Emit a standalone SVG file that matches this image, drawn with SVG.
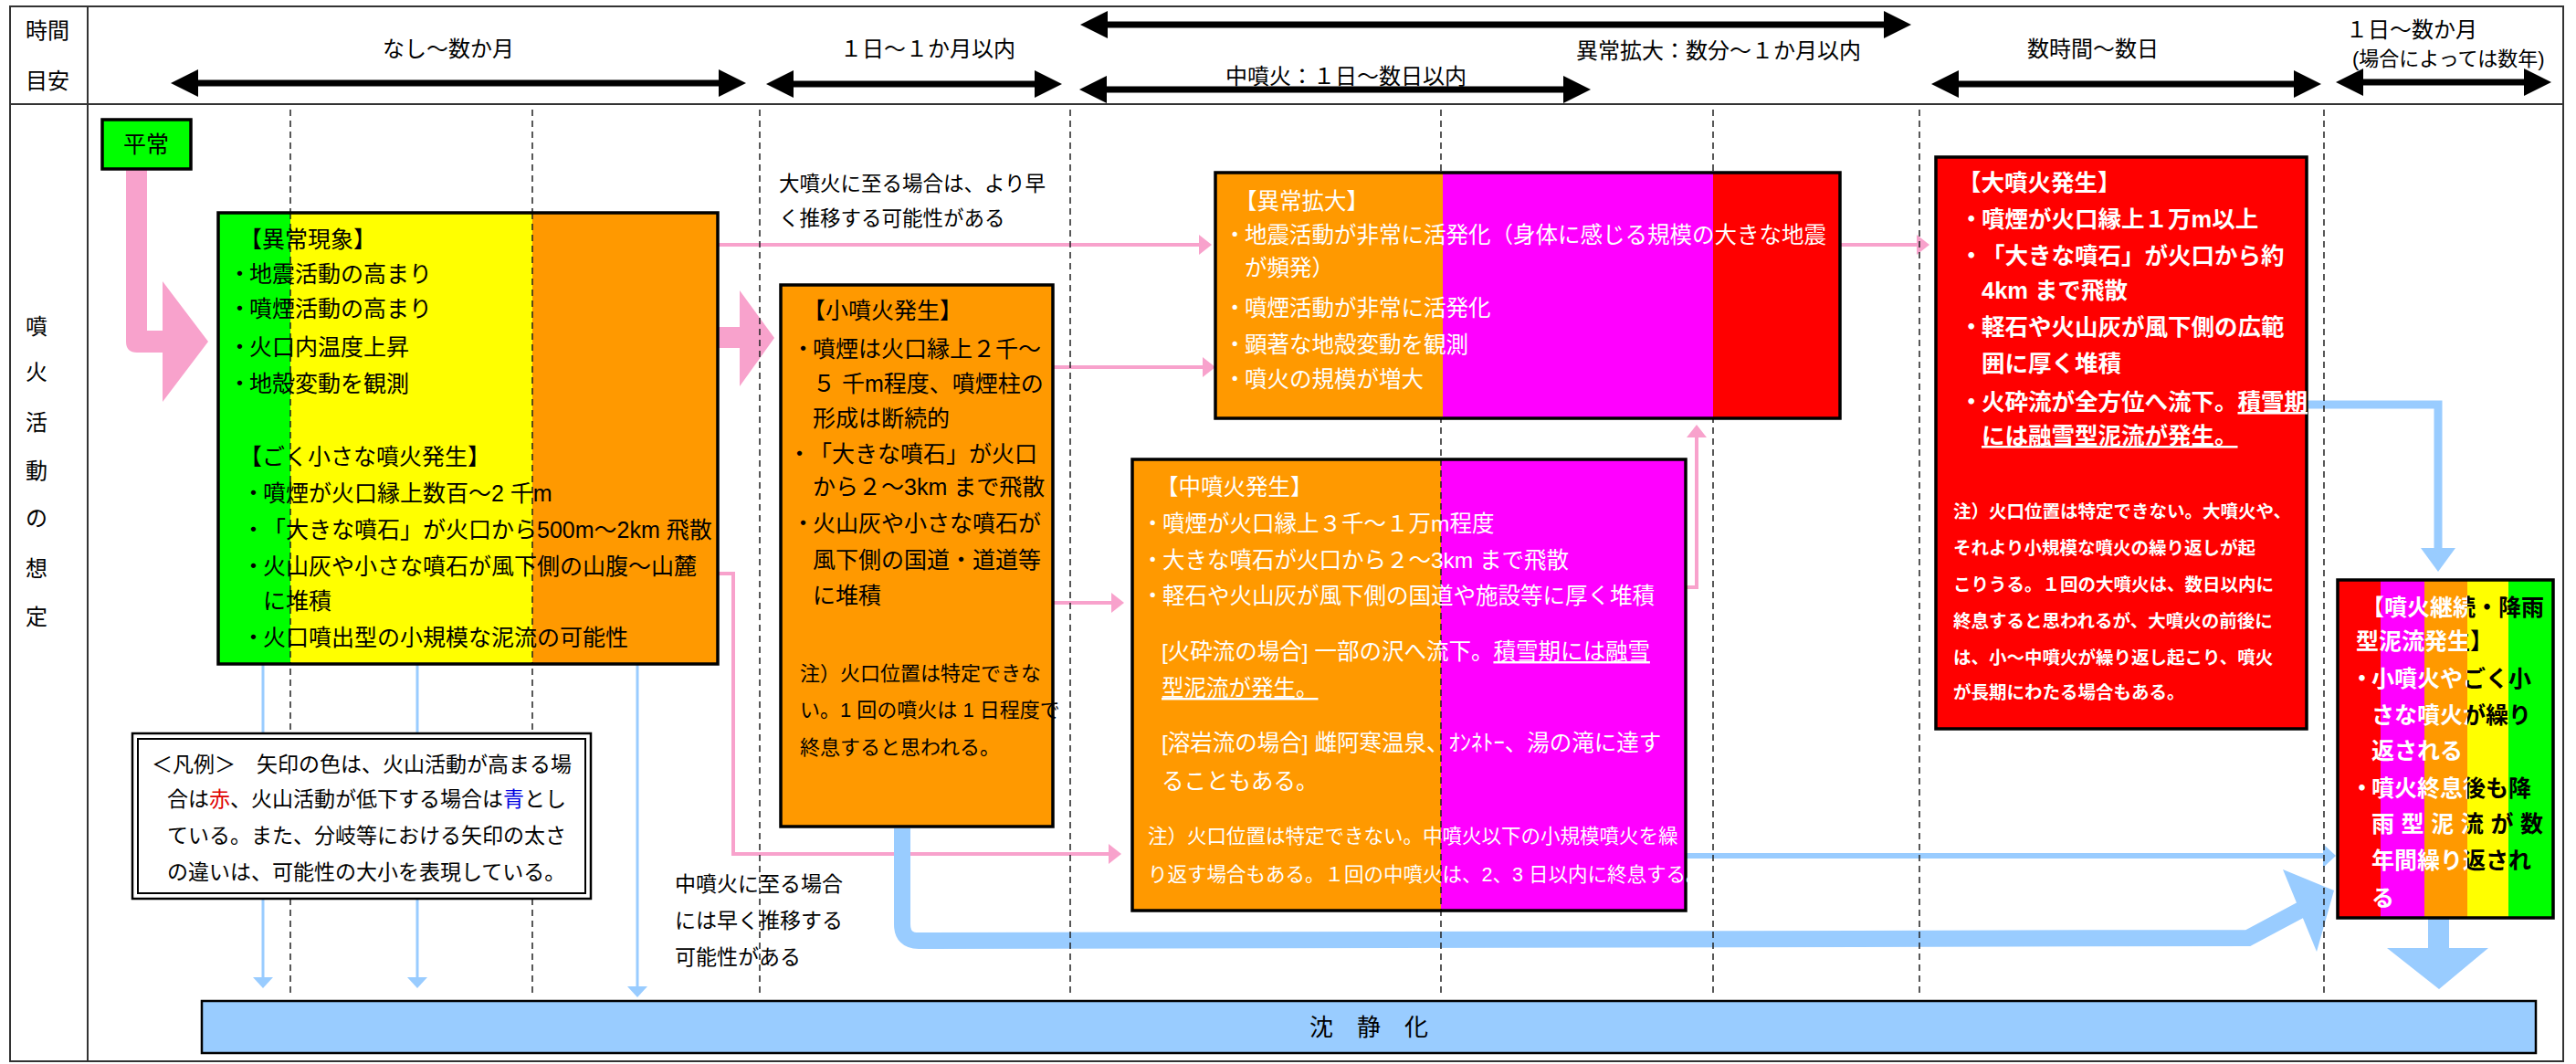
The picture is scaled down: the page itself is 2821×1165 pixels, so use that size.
<svg xmlns="http://www.w3.org/2000/svg" width="2821" height="1165" viewBox="0 0 2821 1165">
<style>
text{font-family:"Liberation Sans","Noto Sans CJK JP",sans-serif;}
.t{font-size:25px}
.h{font-size:24px}
.n{font-size:21.5px}
.s{font-size:19.5px}
.lg{font-size:23px}
.k{fill:#000}
.w{fill:#fff}
.b{font-weight:bold}
.u{text-decoration:underline}
.bx{stroke:#000;stroke-width:3.5;fill:none}
.pk{fill:none;stroke:#F8A2CC;stroke-width:4}
.pkf{fill:#F8A2CC}
.bl{fill:none;stroke:#99CCFF}
.blf{fill:#99CCFF}
.dash{stroke:#222;stroke-width:1.5;stroke-dasharray:7 5}
.hdr{stroke:#000;stroke-width:7}
</style>
<defs>
<marker id="ah" markerUnits="userSpaceOnUse" viewBox="0 0 30 30" markerWidth="30" markerHeight="30" refX="10" refY="15" orient="auto-start-reverse"><path d="M0,0 L30,15 L0,30 z" fill="#000"/></marker>
<marker id="pa" markerUnits="userSpaceOnUse" viewBox="0 0 14 22" markerWidth="14" markerHeight="22" refX="2" refY="11" orient="auto"><path d="M0,0 L14,11 L0,22 z" fill="#F8A2CC"/></marker>
<marker id="ba" markerUnits="userSpaceOnUse" viewBox="0 0 12 22" markerWidth="12" markerHeight="22" refX="1" refY="11" orient="auto"><path d="M0,0 L12,11 L0,22 z" fill="#99CCFF"/></marker>
<marker id="bm" markerUnits="userSpaceOnUse" viewBox="0 0 14 26" markerWidth="14" markerHeight="26" refX="2" refY="13" orient="auto"><path d="M0,0 L14,13 L0,26 z" fill="#99CCFF"/></marker>
<clipPath id="cl"><rect x="2540" y="630" width="162" height="380"/></clipPath>
<clipPath id="cr"><rect x="2702" y="630" width="120" height="380"/></clipPath>
<g id="kkText" class="t b">
<text x="2586" y="674">【噴火継続・降雨</text>
<text x="2580" y="711">型泥流発生】</text>
<text x="2574" y="752">・</text><text x="2597" y="752">小噴火やごく小</text>
<text x="2597" y="792">さな噴火が繰り</text>
<text x="2597" y="831">返される</text>
<text x="2574" y="872">・</text><text x="2597" y="872">噴火終息後も降</text>
<text x="2597" y="911" textLength="188" lengthAdjust="spacing">雨型泥流が数</text>
<text x="2597" y="951">年間繰り返され</text>
<text x="2597" y="992">る</text>
</g>
</defs>
<rect x="0" y="0" width="2821" height="1165" fill="#fff"/>

<g id="table" fill="none" stroke="#333" stroke-width="2">
<rect x="11" y="7" width="2796" height="1155"/>
<line x1="96" y1="7" x2="96" y2="1162"/>
<line x1="11" y1="114" x2="2807" y2="114"/>
</g>

<g id="header" class="h k">
<text x="52" y="42" text-anchor="middle">時間</text>
<text x="52" y="97" text-anchor="middle">目安</text>
<text x="491" y="62" text-anchor="middle">なし〜数か月</text>
<text x="1016" y="62" text-anchor="middle">１日〜１か月以内</text>
<text x="1342" y="92">中噴火：１日〜数日以内</text>
<text x="1726" y="64">異常拡大：数分〜１か月以内</text>
<text x="2292" y="62" text-anchor="middle">数時間〜数日</text>
<text x="2569" y="41">１日〜数か月</text>
<text x="2576" y="72" style="font-size:22px">(場合によっては数年)</text>
<g class="hdr" marker-start="url(#ah)" marker-end="url(#ah)">
<line x1="207" y1="91" x2="797" y2="91"/>
<line x1="859" y1="92" x2="1143" y2="92"/>
<line x1="1202" y1="98" x2="1722" y2="98"/>
<line x1="1203" y1="27" x2="2073" y2="27"/>
<line x1="2135" y1="92" x2="2522" y2="92"/>
<line x1="2578" y1="90" x2="2774" y2="90"/>
</g>
</g>

<g id="rowlabel" class="h k" text-anchor="middle">
<text x="40" y="366">噴</text>
<text x="40" y="416">火</text>
<text x="40" y="471">活</text>
<text x="40" y="524">動</text>
<text x="40" y="576">の</text>
<text x="40" y="631">想</text>
<text x="40" y="684">定</text>
</g>

<g id="connectors">
<path class="pkf" d="M138,185 H161 V362 H178 V308 L228,374 L178,440 V386 H150 Q138,386 138,374 Z"/>
<path class="pkf" d="M787,358 H810 V318 L848,370 L810,423 V381 H787 Z"/>
<path class="pk" d="M786,268 H1315" marker-end="url(#pa)"/>
<path class="pk" d="M2015,268 H2101" marker-end="url(#pa)"/>
<path class="pk" d="M1153,402 H1319" marker-end="url(#pa)"/>
<path class="pk" d="M1153,660 H1219" marker-end="url(#pa)"/>
<path class="pk" d="M786,628 H803 V935 H1216" marker-end="url(#pa)"/>
<path class="pk" d="M1846,643 H1858 V477" marker-end="url(#pa)"/>
<path class="bl" stroke-width="3" d="M288,727 V1071" marker-end="url(#ba)"/>
<path class="bl" stroke-width="3" d="M457,727 V1071" marker-end="url(#ba)"/>
<path class="bl" stroke-width="3" d="M698,727 V1081" marker-end="url(#ba)"/>
<path class="bl" stroke-width="6" d="M1846,937 H2546" marker-end="url(#bm)"/>
<path class="bl" stroke-width="18" d="M988,907 V1012 Q988,1030 1006,1030 L2462,1027 L2520,996"/>
<polygon class="blf" points="2500,952 2556,975 2537,1042"/>
<path class="bl" stroke-width="9" d="M2526,443 H2670 V602"/>
<polygon class="blf" points="2651,600 2689,600 2670,626"/>
<polygon class="blf" points="2659,1005 2682,1005 2682,1038 2725,1038 2671,1083 2614,1038 2659,1038"/>
</g>

<g id="grid" class="dash">
<line x1="318" y1="120" x2="318" y2="1090"/>
<line x1="583" y1="120" x2="583" y2="1090"/>
<line x1="832" y1="120" x2="832" y2="1090"/>
<line x1="1172" y1="120" x2="1172" y2="1090"/>
<line x1="1578" y1="120" x2="1578" y2="1090"/>
<line x1="1876" y1="120" x2="1876" y2="1090"/>
<line x1="2102" y1="120" x2="2102" y2="1090"/>
<line x1="2545" y1="120" x2="2545" y2="1090"/>
</g>

<g id="heijo">
<rect x="112" y="131" width="97" height="54" fill="#00FF00"/>
<rect class="bx" x="112" y="131" width="97" height="54"/>
<text class="t k" x="160" y="167" text-anchor="middle">平常</text>
</g>

<g id="ijougenshou">
<rect x="239" y="233" width="79" height="494" fill="#00FF00"/>
<rect x="318" y="233" width="265" height="494" fill="#FFFF00"/>
<rect x="583" y="233" width="203" height="494" fill="#FF9900"/>
<line class="dash" x1="318" y1="233" x2="318" y2="727"/>
<line class="dash" x1="583" y1="233" x2="583" y2="727"/>
<rect class="bx" x="239" y="233" width="547" height="494"/>
<g class="t k">
<text x="262" y="271">【異常現象】</text>
<text x="250" y="309">・</text><text x="273" y="309">地震活動の高まり</text>
<text x="250" y="347">・</text><text x="273" y="347">噴煙活動の高まり</text>
<text x="250" y="389">・</text><text x="273" y="389">火口内温度上昇</text>
<text x="250" y="429">・</text><text x="273" y="429">地殻変動を観測</text>
<text x="262" y="509">【ごく小さな噴火発生】</text>
<text x="265" y="549">・</text><text x="288" y="549">噴煙が火口縁上数百〜2 千m</text>
<text x="265" y="589">・</text><text x="288" y="589">「大きな噴石」が火口から500m〜2km 飛散</text>
<text x="265" y="629">・</text><text x="288" y="629">火山灰や小さな噴石が風下側の山腹〜山麓</text>
<text x="288" y="667">に堆積</text>
<text x="265" y="707">・</text><text x="288" y="707">火口噴出型の小規模な泥流の可能性</text>
</g>
</g>

<g id="legend">
<rect x="145" y="803" width="502" height="181" fill="#fff" stroke="#000" stroke-width="2.5"/>
<rect x="151" y="809" width="490" height="169" fill="none" stroke="#000" stroke-width="2"/>
<g class="lg k">
<text x="166" y="845">＜凡例＞　矢印の色は、火山活動が高まる場</text>
<text x="183" y="883">合は<tspan fill="#E00000">赤</tspan>、火山活動が低下する場合は<tspan fill="#0000E0">青</tspan>とし</text>
<text x="183" y="923">ている。また、分岐等における矢印の太さ</text>
<text x="183" y="963">の違いは、可能性の大小を表現している。</text>
</g>
</g>

<g id="note-daifunka" class="k" style="font-size:22.5px">
<text x="853" y="209">大噴火に至る場合は、より早</text>
<text x="853" y="247">く推移する可能性がある</text>
</g>

<g id="note-chufunka" class="lg k">
<text x="739" y="976">中噴火に至る場合</text>
<text x="739" y="1016">には早く推移する</text>
<text x="739" y="1056">可能性がある</text>
</g>

<g id="shoufunka">
<rect x="855" y="312" width="298" height="593" fill="#FF9900"/>
<rect class="bx" x="855" y="312" width="298" height="593"/>
<g class="t k">
<text x="879" y="349">【小噴火発生】</text>
<text x="867" y="391">・</text><text x="890" y="391">噴煙は火口縁上２千〜</text>
<text x="890" y="429">５ 千m程度、噴煙柱の</text>
<text x="890" y="467">形成は断続的</text>
<text x="863" y="506">・</text><text x="886" y="506">「大きな噴石」が火口</text>
<text x="890" y="542">から２〜3km まで飛散</text>
<text x="867" y="582">・</text><text x="890" y="582">火山灰や小さな噴石が</text>
<text x="890" y="622">風下側の国道・道道等</text>
<text x="890" y="661">に堆積</text>
</g>
<g class="k" style="font-size:22px">
<text x="876" y="745">注）火口位置は特定できな</text>
<text x="876" y="785">い。1 回の噴火は 1 日程度で</text>
<text x="876" y="826">終息すると思われる。</text>
</g>
</g>

<g id="ijoukakudai">
<rect x="1331" y="189" width="249" height="269" fill="#FF9900"/>
<rect x="1580" y="189" width="296" height="269" fill="#FF00FF"/>
<rect x="1876" y="189" width="139" height="269" fill="#FF0000"/>
<rect class="bx" x="1331" y="189" width="684" height="269"/>
<g class="w" style="font-size:24.5px">
<text x="1352" y="229">【異常拡大】</text>
<text x="1340" y="266">・</text><text x="1363" y="266">地震活動が非常に活発化（身体に感じる規模の大きな地震</text>
<text x="1363" y="302">が頻発）</text>
<text x="1340" y="346">・</text><text x="1363" y="346">噴煙活動が非常に活発化</text>
<text x="1340" y="386">・</text><text x="1363" y="386">顕著な地殻変動を観測</text>
<text x="1340" y="424">・</text><text x="1363" y="424">噴火の規模が増大</text>
</g>
</g>

<g id="chufunka">
<rect x="1240" y="503" width="338" height="494" fill="#FF9900"/>
<rect x="1578" y="503" width="268" height="494" fill="#FF00FF"/>
<line class="dash" x1="1578" y1="503" x2="1578" y2="997"/>
<rect class="bx" x="1240" y="503" width="606" height="494"/>
<g class="w" style="font-size:24.5px">
<text x="1266" y="542">【中噴火発生】</text>
<text x="1250" y="582">・</text><text x="1273" y="582">噴煙が火口縁上３千〜１万m程度</text>
<text x="1250" y="622">・</text><text x="1273" y="622">大きな噴石が火口から２〜3km まで飛散</text>
<text x="1250" y="661">・</text><text x="1273" y="661">軽石や火山灰が風下側の国道や施設等に厚く堆積</text>
<text x="1272" y="722">[火砕流の場合] 一部の沢へ流下。<tspan class="u">積雪期には融雪</tspan></text>
<text x="1272" y="762" class="u">型泥流が発生。</text>
<text x="1272" y="822">[溶岩流の場合] 雌阿寒温泉、ｵﾝﾈﾄｰ、湯の滝に達す</text>
<text x="1272" y="864">ることもある。</text>
</g>
<g class="w n">
<text x="1257" y="923">注）火口位置は特定できない。中噴火以下の小規模噴火を繰</text>
<text x="1257" y="965">り返す場合もある。１回の中噴火は、2、3 日以内に終息する。</text>
</g>
</g>

<g id="daifunka">
<rect x="2120" y="172" width="406" height="626" fill="#FF0000"/>
<rect class="bx" x="2120" y="172" width="406" height="626"/>
<g class="w b" style="font-size:25.5px">
<text x="2144" y="209">【大噴火発生】</text>
<text x="2146" y="249">・</text><text x="2170" y="249">噴煙が火口縁上１万m以上</text>
<text x="2146" y="289">・</text><text x="2170" y="289">「大きな噴石」が火口から約</text>
<text x="2170" y="327">4km まで飛散</text>
<text x="2146" y="367">・</text><text x="2170" y="367">軽石や火山灰が風下側の広範</text>
<text x="2170" y="407">囲に厚く堆積</text>
<text x="2146" y="449">・</text><text x="2170" y="449">火砕流が全方位へ流下。<tspan class="u">積雪期</tspan></text>
<text x="2170" y="486" class="u">には融雪型泥流が発生。</text>
</g>
<g class="w b s">
<text x="2139" y="567">注）火口位置は特定できない。大噴火や、</text>
<text x="2139" y="607">それより小規模な噴火の繰り返しが起</text>
<text x="2139" y="647">こりうる。１回の大噴火は、数日以内に</text>
<text x="2139" y="687">終息すると思われるが、大噴火の前後に</text>
<text x="2139" y="727">は、小〜中噴火が繰り返し起こり、噴火</text>
<text x="2139" y="765">が長期にわたる場合もある。</text>
</g>
</g>

<g id="funkakeizoku">
<rect x="2560" y="635" width="47" height="370" fill="#FF0000"/>
<rect x="2607" y="635" width="48" height="370" fill="#FF00FF"/>
<rect x="2655" y="635" width="47" height="370" fill="#FF9900"/>
<rect x="2702" y="635" width="45" height="370" fill="#FFFF00"/>
<rect x="2747" y="635" width="49" height="370" fill="#00FF00"/>
<rect class="bx" x="2560" y="635" width="236" height="370"/>
<use href="#kkText" fill="#fff" clip-path="url(#cl)"/>
<use href="#kkText" fill="#000" clip-path="url(#cr)"/>
</g>

<g id="chinseika">
<rect x="221" y="1096" width="2556" height="57" fill="#99CCFF" stroke="#000" stroke-width="2.5"/>
<text x="1499" y="1134" text-anchor="middle" class="k" style="font-size:26px">沈　静　化</text>
</g>
</svg>
